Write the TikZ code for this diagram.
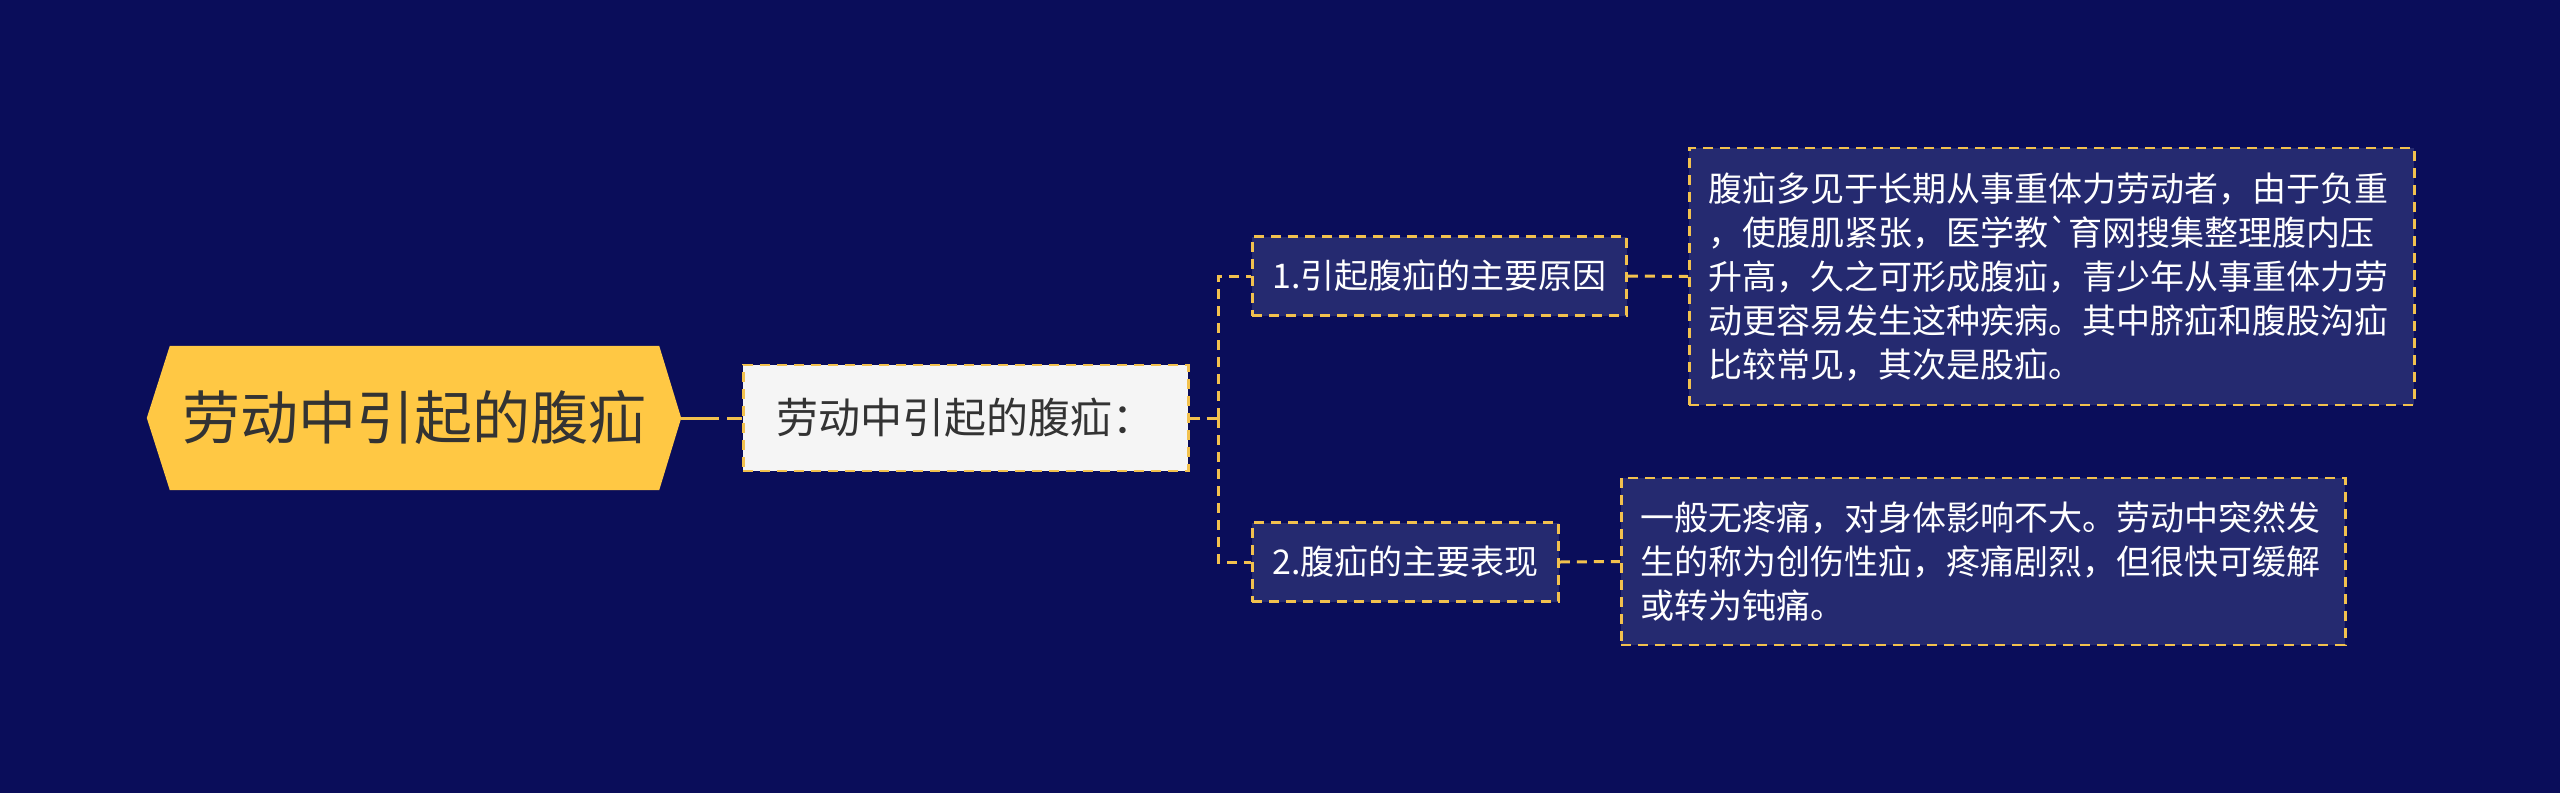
\documentclass[tikz,border=0pt]{standalone}
\usepackage{fontspec}
\newfontfamily\cjk{Noto Sans CJK SC}
\usetikzlibrary{backgrounds}
\definecolor{bg}{HTML}{0A0D5A}
\definecolor{gold}{HTML}{FFC844}
\definecolor{dashc}{HTML}{F2C14E}
\definecolor{boxc}{HTML}{252A70}
\definecolor{pale}{HTML}{F5F5F5}
\definecolor{ink}{HTML}{333333}
\begin{document}
\begin{tikzpicture}[x=1pt,y=-1pt,
 rootnode/.style={minimum width=534pt, minimum height=144pt, inner sep=0pt, font=\cjk\fontsize{58}{70}\selectfont, text=ink},
 boxline/.style={draw=dashc, line width=2.5pt, dash pattern=on 10pt off 7pt},
 mainnode/.style={boxline, fill=pale, minimum width=445pt, minimum height=106pt, inner sep=0pt, font=\cjk\fontsize{42}{50}\selectfont, text=ink},
 subnode/.style={boxline, fill=boxc, minimum height=79pt, inner xsep=20pt, inner ysep=0pt, font=\cjk\fontsize{34}{40}\selectfont, text=white},
 leafnode/.style={boxline, fill=boxc, inner xsep=19pt, inner ysep=0pt, align=left, font=\cjk\fontsize{34}{44}\selectfont, text=white},
 conn/.style={draw=dashc, line width=3pt, dash pattern=on 10pt off 7pt}
]
\useasboundingbox (0,0) rectangle (2560,793);

\node[rootnode] (root) at (414,418) {劳动中引起的腹疝};
\begin{scope}[on background layer]
\fill[bg] (0,0) rectangle (2560,793);
\fill[gold] (root.west) -- ([xshift=23pt]root.north west) -- ([xshift=-22pt]root.north east)
  -- (root.east) -- ([xshift=-22pt]root.south east) -- ([xshift=23pt]root.south west) -- cycle;
\end{scope}

\node[mainnode, anchor=west] (main) at (742,418) {劳动中引起的腹疝：};
\node[subnode, anchor=west] (c1) at (1251,276) {1.引起腹疝的主要原因};
\node[subnode, anchor=west] (c2) at (1251,562) {2.腹疝的主要表现};
\node[leafnode, anchor=west, text width=687pt, minimum height=257pt] (l1) at (1688,276.5)
 {腹疝多见于长期从事重体力劳动者，由于负重\\，使腹肌紧张，医学教`育网搜集整理腹内压\\升高，久之可形成腹疝，青少年从事重体力劳\\动更容易发生这种疾病。其中脐疝和腹股沟疝\\比较常见，其次是股疝。};
\node[leafnode, anchor=west, text width=686pt, minimum height=167pt] (l2) at (1620,561.5)
 {一般无疼痛，对身体影响不大。劳动中突然发\\生的称为创伤性疝，疼痛剧烈，但很快可缓解\\或转为钝痛。};

\coordinate (j) at (1218,418);
\draw[conn, dash pattern=on 38pt off 8pt] (root.east) -- (main.west);
\draw[conn] (main.east) -- (j);
\draw[conn] (j) |- (c1.west);
\draw[conn] (j) |- (c2.west);
\draw[conn] (c1.east) -- (l1.west);
\draw[conn] (c2.east) -- (l2.west);
\end{tikzpicture}
\end{document}
